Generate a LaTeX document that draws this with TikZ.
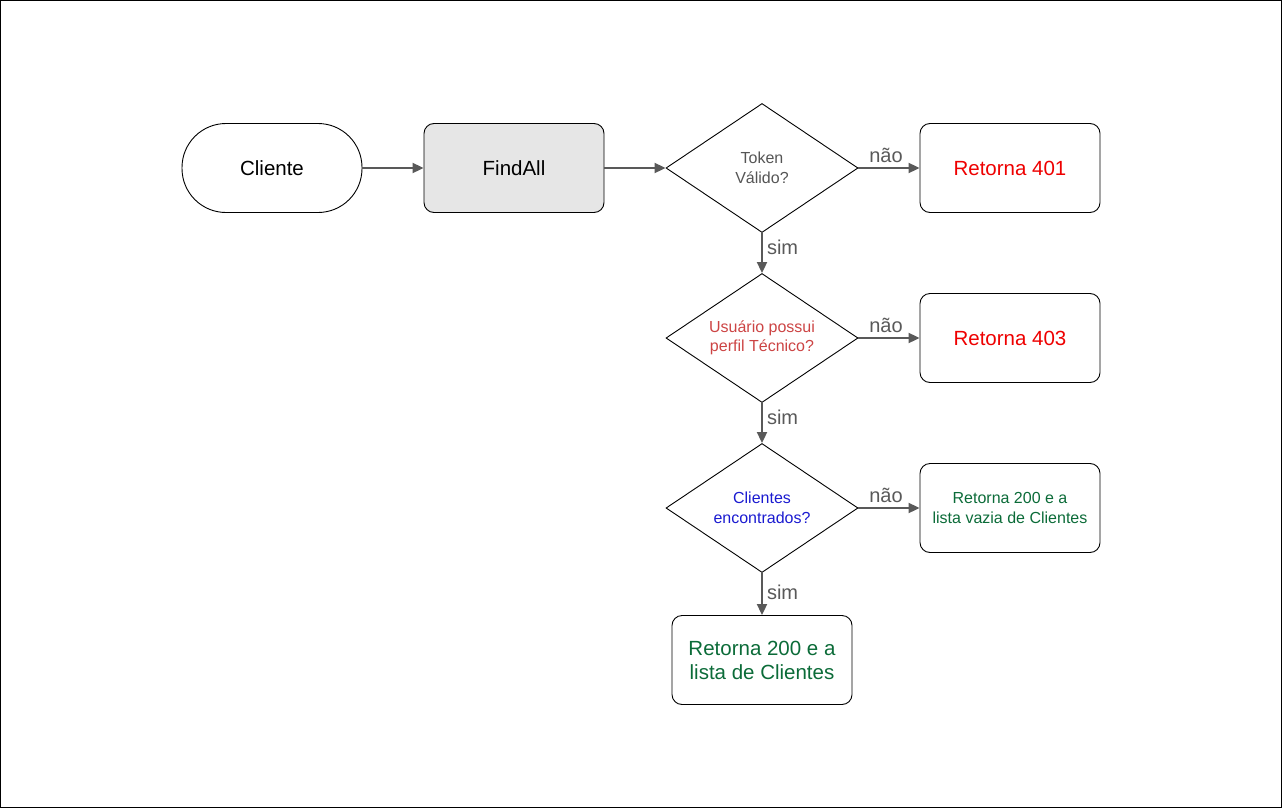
\documentclass[tikz,border=0pt]{standalone}
\usepackage{fontspec}
\setmainfont{Liberation Sans}
\usetikzlibrary{shapes.geometric,arrows.meta}
\definecolor{arrowgray}{HTML}{595959}
\definecolor{boxgray}{HTML}{E6E6E6}
\definecolor{txtred}{HTML}{EE0000}
\definecolor{txtrose}{HTML}{CC4444}
\definecolor{txtblue}{HTML}{1A1AD0}
\definecolor{txtgreen}{HTML}{0B6B38}
\definecolor{txtgray}{HTML}{555555}
\tikzset{
  bigtxt/.style={font=\fontsize{20.5}{24}\selectfont, align=center},
  smalltxt/.style={font=\fontsize{16}{19.5}\selectfont, align=center},
  procbox/.style={draw=black, line width=0.9pt, rounded corners=10pt, minimum width=180pt, minimum height=89pt, inner sep=0pt},
  startbox/.style={draw=black, line width=0.9pt, rounded corners=44pt, minimum width=180pt, minimum height=89pt, inner sep=0pt, fill=white},
  decbox/.style={draw=black, line width=0.9pt, diamond, aspect=1.49, minimum width=192pt, minimum height=129pt, inner sep=0pt},
  flow/.style={draw=arrowgray, line width=2pt, -{Triangle[length=11pt,width=10pt]}},
  lbl/.style={text=arrowgray, font=\fontsize{20}{24}\selectfont, inner sep=0pt},
}
\begin{document}
\begin{tikzpicture}[x=1pt,y=-1pt]
\useasboundingbox (0,0) rectangle (1282,808);
\draw[black, line width=1pt] (0.5,0.5) rectangle (1281.5,807.5);

\node[startbox, bigtxt] (cli) at (272,168) {Cliente};
\node[procbox, bigtxt, fill=boxgray] (find) at (514,168) {FindAll};
\node[decbox, smalltxt, text=txtgray] (d1) at (762,168) {Token\\Válido?};
\node[procbox, bigtxt, text=txtred] (r401) at (1010,168) {Retorna 401};
\node[decbox, smalltxt, text=txtrose] (d2) at (762,338) {Usuário possui\\perfil Técnico?};
\node[procbox, bigtxt, text=txtred] (r403) at (1010,338) {Retorna 403};
\node[decbox, smalltxt, text=txtblue] (d3) at (762,508) {Clientes\\encontrados?};
\node[procbox, smalltxt, text=txtgreen] (r200v) at (1010,508) {Retorna 200 e a\\lista vazia de Clientes};
\node[procbox, bigtxt, text=txtgreen] (r200) at (762,660) {Retorna 200 e a\\lista de Clientes};

\draw[flow] (cli) -- (find);
\draw[flow] (find) -- (d1);
\draw[flow] (d1) -- node[lbl, above=4pt, pos=0.45] (n1) {não} (r401);
\draw[flow] (d1) -- node[lbl, right=4pt, pos=0.35] (s1) {sim} (d2);
\draw[flow] (d2) -- node[lbl, above=4pt, pos=0.45] (n2) {não} (r403);
\draw[flow] (d2) -- node[lbl, right=4pt, pos=0.35] (s2) {sim} (d3);
\draw[flow] (d3) -- node[lbl, above=4pt, pos=0.45] (n3) {não} (r200v);
\draw[flow] (d3) -- node[lbl, right=4pt, pos=0.45] (s3) {sim} (r200);
\end{tikzpicture}
\end{document}
